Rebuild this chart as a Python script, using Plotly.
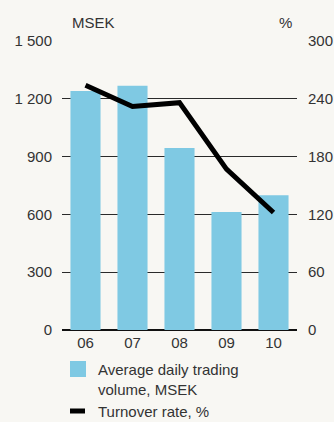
import plotly.graph_objects as go

# Data
years = ["06", "07", "08", "09", "10"]
trading_volume_msek = [1240, 1268, 945, 612, 700]
turnover_rate_pct = [254, 232, 236, 167, 122]

left_ticks = [0, 300, 600, 900, 1200, 1500]
left_tick_text = ["0", "300", "600", "900", "1 200", "1 500"]
right_ticks = [0, 60, 120, 180, 240, 300]
right_tick_text = ["0", "60", "120", "180", "240", "300"]

bar_color = "#7fc9e3"
text_color = "#333333"
bg = "#f8f7f3"
font_family = "Liberation Sans, Arial, sans-serif"

fig = go.Figure()

fig.add_trace(go.Bar(
    x=years, y=trading_volume_msek, marker_color=bar_color,
    marker_line_width=0, name="Average daily trading volume, MSEK",
    showlegend=False,
))
fig.add_trace(go.Scatter(
    x=years, y=turnover_rate_pct, yaxis="y2", mode="lines",
    line=dict(color="#000000", width=5), name="Turnover rate, %",
    showlegend=False,
))

W, H = 334, 422
ml, mr, mt, mb = 62, 37, 41, 92

fig.update_layout(
    width=W, height=H,
    margin=dict(l=ml, r=mr, t=mt, b=mb, autoexpand=False),
    paper_bgcolor=bg, plot_bgcolor=bg,
    font=dict(family=font_family, size=15, color=text_color),
    bargap=0.36,
    xaxis=dict(
        showgrid=False, zeroline=False, showline=False, automargin=False,
        ticks="", tickfont=dict(size=15, color=text_color),
        ticklabelstandoff=2,
    ),
    yaxis=dict(
        range=[0, 1500], tickvals=left_ticks, ticktext=left_tick_text,
        showgrid=True, gridcolor="#2a2a2a", gridwidth=1,
        zeroline=True, zerolinecolor="#111111", zerolinewidth=2,
        ticks="", showline=False, ticklabelstandoff=9, automargin=False,
    ),
    yaxis2=dict(
        range=[0, 300], tickvals=right_ticks, ticktext=right_tick_text,
        overlaying="y", side="right", showgrid=False, zeroline=False,
        ticks="", showline=False, ticklabelstandoff=10, automargin=False,
    ),
    showlegend=False,
)

# Axis unit labels
fig.add_annotation(text="MSEK", xref="paper", yref="paper",
                   x=(70 - ml) / (W - ml - mr), y=1, yshift=19,
                   xanchor="left", yanchor="middle", showarrow=False)
fig.add_annotation(text="%", xref="paper", yref="paper",
                   x=(294 - ml) / (W - ml - mr), y=1, yshift=19,
                   xanchor="right", yanchor="middle", showarrow=False)

# Legend drawn below the plot
pw = W - ml - mr
ph = H - mt - mb
def px_x(px):
    return (px - ml) / pw
def px_y(py):
    return (H - mb - py) / ph

fig.add_shape(type="rect", xref="paper", yref="paper",
              x0=px_x(70), x1=px_x(86), y0=px_y(361), y1=px_y(377),
              fillcolor=bar_color, line_width=0)
fig.add_annotation(text="Average daily trading<br>volume, MSEK",
                   xref="paper", yref="paper", x=px_x(96), y=px_y(359),
                   xanchor="left", yanchor="top", align="left",
                   showarrow=False)
fig.add_shape(type="line", xref="paper", yref="paper",
              x0=px_x(70), x1=px_x(85), y0=px_y(411), y1=px_y(411),
              line=dict(color="#000000", width=5))
fig.add_annotation(text="Turnover rate, %",
                   xref="paper", yref="paper", x=px_x(96), y=px_y(411),
                   xanchor="left", yanchor="middle", align="left",
                   showarrow=False)

fig.write_html("out.html")
